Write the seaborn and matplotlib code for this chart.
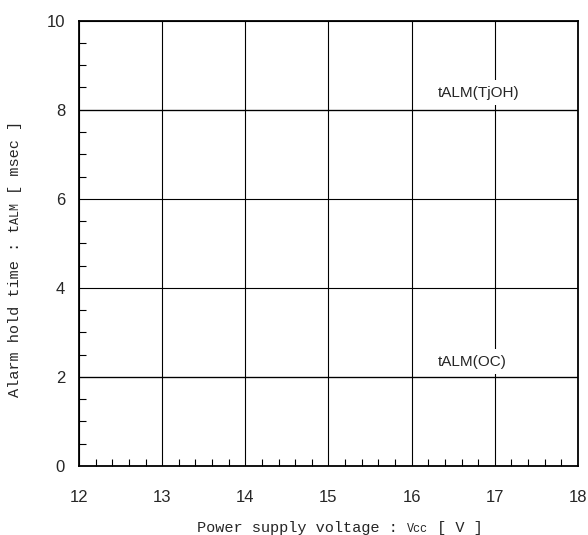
import numpy as np
import pandas as pd
import matplotlib
matplotlib.use("Agg")
import matplotlib.pyplot as plt
import seaborn as sns

# Alarm hold time vs. control supply voltage
vcc = [12, 13, 14, 15, 16, 17, 18]
t_alm_tjoh = [8, 8, 8, 8, 8, 8, 8]
t_alm_oc = [2, 2, 2, 2, 2, 2, 2]
x_ticks = [12, 13, 14, 15, 16, 17, 18]
y_ticks = [0, 2, 4, 6, 8, 10]

sns.set_style("white")
plt.rcParams["font.family"] = ["Liberation Sans", "DejaVu Sans"]

df = pd.concat([
    pd.DataFrame({"vcc": vcc, "t": t_alm_tjoh, "kind": "tALM(TjOH)"}),
    pd.DataFrame({"vcc": vcc, "t": t_alm_oc, "kind": "tALM(OC)"}),
])

fig = plt.figure(figsize=(5.88, 5.35), dpi=100)
ax = fig.add_axes([79 / 588, 1 - 466 / 535, (578 - 79) / 588, (466 - 20.7) / 535])

sns.lineplot(data=df, x="vcc", y="t", units="kind", estimator=None,
             color="black", linewidth=0.9, ax=ax, legend=False, zorder=2)

ax.set_xlim(12, 18)
ax.set_ylim(0, 10)
ax.set_xticks(x_ticks)
ax.set_yticks(y_ticks)
ax.set_xticks(np.arange(12, 18.01, 0.2), minor=True)
ax.set_yticks(np.arange(0, 10.01, 0.5), minor=True)
ax.grid(True, which="major", color="black", linewidth=0.8, zorder=1)
ax.set_axisbelow(True)

ax.tick_params(which="major", length=0, labelsize=12)
ax.tick_params(axis="x", which="major", pad=17)
ax.tick_params(axis="y", which="major", pad=10)
ax.tick_params(which="minor", direction="in", length=5, width=0.8,
               color="black", bottom=True, left=True, top=False, right=False)

for s in ax.spines.values():
    s.set_color("black")
    s.set_linewidth(1.3)

ax.set_xlabel("")
ax.set_ylabel("")

# Curve labels
lab_kw = dict(fontsize=11, ha="left", va="center", zorder=4,
              bbox=dict(facecolor="white", edgecolor="none", pad=4))
ax.text(16.31, 8.38, "tALM(TjOH)", **lab_kw)
ax.text(16.31, 2.34, "tALM(OC)", **lab_kw)

# Axis titles built from pieces so subscripts can be smaller
mono = "Liberation Mono"
big, small = 11, 8.5

px = fig.text(197 / 588, 1 - 532 / 535, "Power supply voltage : ",
              family=mono, fontsize=big, ha="left", va="baseline")
p2 = fig.text(0, 0, "Vcc", family=mono, fontsize=small,
              ha="left", va="bottom")
fig.canvas.draw()
r = fig.canvas.get_renderer()
bb = px.get_window_extent(r)
p2.set_position((bb.x1 / fig.bbox.width, bb.y0 / fig.bbox.height))
p2.set_transform(fig.transFigure)
fig.canvas.draw()
bb2 = p2.get_window_extent(r)
fig.text(bb2.x1 / fig.bbox.width, bb.y0 / fig.bbox.height, " [ V ]",
         family=mono, fontsize=big, ha="left", va="bottom")

py = fig.text(22 / 588, 1 - 397 / 535, "Alarm hold time : t",
              family=mono, fontsize=big, rotation=90, ha="right", va="bottom")
fig.canvas.draw()
bby = py.get_window_extent(r)
q2 = fig.text(bby.x1 / fig.bbox.width, bby.y1 / fig.bbox.height, "ALM",
              family=mono, fontsize=small, rotation=90, ha="right", va="bottom")
fig.canvas.draw()
bbq = q2.get_window_extent(r)
fig.text(bby.x1 / fig.bbox.width, bbq.y1 / fig.bbox.height, " [ msec ]",
         family=mono, fontsize=big, rotation=90, ha="right", va="bottom")

fig.savefig("out.png", dpi=100)
